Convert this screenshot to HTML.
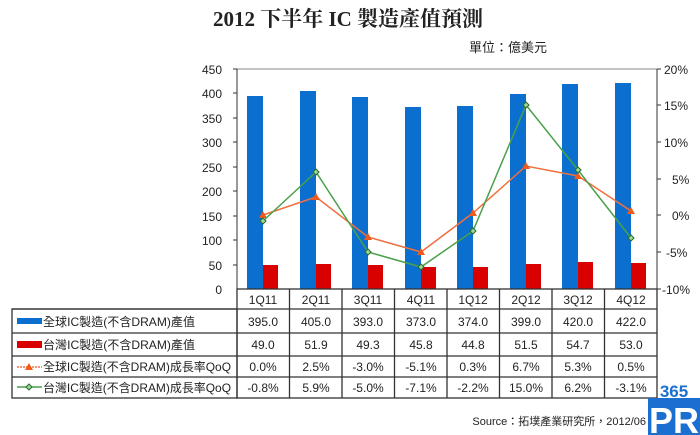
<!DOCTYPE html>
<html><head><meta charset="utf-8"><style>
body{margin:0;background:#fff;width:700px;height:435px;overflow:hidden}
svg{display:block}
text{font-family:"Liberation Sans","Noto Sans CJK TC",sans-serif;fill:#222}
</style></head><body>
<svg width="700" height="435" viewBox="0 0 700 435">
<text x="348" y="26" text-anchor="middle" style="font-family:'Liberation Serif','Noto Serif CJK SC',serif;font-weight:bold;font-size:21px">2012 下半年 IC 製造產值預測</text>
<text x="469" y="52" font-size="13">單位：億美元</text>
<rect x="237" y="69" width="420" height="220" fill="none" stroke="#888" stroke-width="1"/>
<g font-size="12" text-anchor="end">
<text x="222" y="74">450</text><text x="222" y="98">400</text><text x="222" y="123">350</text><text x="222" y="147">300</text><text x="222" y="172">250</text><text x="222" y="196">200</text><text x="222" y="221">150</text><text x="222" y="245">100</text><text x="222" y="270">50</text><text x="222" y="294">0</text>
</g>
<g stroke="#333"><line x1="237" y1="69" x2="237" y2="289"/><line x1="657" y1="69" x2="657" y2="289"/>
<line x1="233" y1="69" x2="237" y2="69"/><line x1="233" y1="93" x2="237" y2="93"/><line x1="233" y1="118" x2="237" y2="118"/><line x1="233" y1="142" x2="237" y2="142"/><line x1="233" y1="167" x2="237" y2="167"/><line x1="233" y1="191" x2="237" y2="191"/><line x1="233" y1="216" x2="237" y2="216"/><line x1="233" y1="240" x2="237" y2="240"/><line x1="233" y1="265" x2="237" y2="265"/>
<line x1="657" y1="69" x2="661" y2="69"/><line x1="657" y1="105" x2="661" y2="105"/><line x1="657" y1="142" x2="661" y2="142"/><line x1="657" y1="179" x2="661" y2="179"/><line x1="657" y1="215" x2="661" y2="215"/><line x1="657" y1="252" x2="661" y2="252"/><line x1="657" y1="289" x2="661" y2="289"/>
</g>
<g font-size="12">
<text x="664" y="74">20%</text><text x="664" y="110">15%</text><text x="664" y="147">10%</text><text x="672" y="184">5%</text><text x="672" y="220">0%</text><text x="666" y="257">-5%</text><text x="662" y="294">-10%</text>
</g>
<g fill="#0a6fce">
<rect x="247" y="96" width="16" height="193"/><rect x="300" y="91" width="16" height="198"/><rect x="352" y="97" width="16" height="192"/><rect x="405" y="107" width="16" height="182"/><rect x="457" y="106" width="16" height="183"/><rect x="510" y="94" width="16" height="195"/><rect x="562" y="84" width="16" height="205"/><rect x="615" y="83" width="16" height="206"/>
</g>
<g fill="#d90000">
<rect x="263" y="265" width="15" height="24"/><rect x="316" y="264" width="15" height="25"/><rect x="368" y="265" width="15" height="24"/><rect x="421" y="267" width="15" height="22"/><rect x="473" y="267" width="15" height="22"/><rect x="526" y="264" width="15" height="25"/><rect x="578" y="262" width="15" height="27"/><rect x="631" y="263" width="15" height="26"/>
</g>
<polyline points="263,215 316,197 368,237 421,252 473,213 526,166 578,176 631,211" fill="none" stroke="#f07040" stroke-width="1.5"/>
<g fill="#f05a1a">
<path d="M263,211 l4,7 h-8z"/><path d="M316,193 l4,7 h-8z"/><path d="M368,233 l4,7 h-8z"/><path d="M421,248 l4,7 h-8z"/><path d="M473,209 l4,7 h-8z"/><path d="M526,162 l4,7 h-8z"/><path d="M578,172 l4,7 h-8z"/><path d="M631,207 l4,7 h-8z"/>
</g>
<polyline points="263,221 316,172 368,252 421,267 473,231 526,105 578,170 631,238" fill="none" stroke="#4aa04a" stroke-width="1.5"/>
<g fill="#9cd89c" stroke="#2a6a2a" stroke-width="1">
<path d="M263,218 l3,3 -3,3 -3,-3z"/><path d="M316,169 l3,3 -3,3 -3,-3z"/><path d="M368,249 l3,3 -3,3 -3,-3z"/><path d="M421,264 l3,3 -3,3 -3,-3z"/><path d="M473,228 l3,3 -3,3 -3,-3z"/><path d="M526,102 l3,3 -3,3 -3,-3z"/><path d="M578,167 l3,3 -3,3 -3,-3z"/><path d="M631,235 l3,3 -3,3 -3,-3z"/>
</g>
<g stroke="#333" stroke-width="1.3" fill="none">
<rect x="237" y="289" width="420" height="109"/>
<rect x="12" y="309" width="225" height="89"/>
<line x1="12" y1="309" x2="657" y2="309"/><line x1="12" y1="333" x2="657" y2="333"/><line x1="12" y1="356" x2="657" y2="356"/><line x1="12" y1="377" x2="657" y2="377"/>
<line x1="289.5" y1="289" x2="289.5" y2="398"/><line x1="342" y1="289" x2="342" y2="398"/><line x1="394.5" y1="289" x2="394.5" y2="398"/><line x1="447" y1="289" x2="447" y2="398"/><line x1="499.5" y1="289" x2="499.5" y2="398"/><line x1="552" y1="289" x2="552" y2="398"/><line x1="604.5" y1="289" x2="604.5" y2="398"/>
</g>
<g font-size="12" text-anchor="middle">
<text x="263" y="304">1Q11</text><text x="316" y="304">2Q11</text><text x="368" y="304">3Q11</text><text x="421" y="304">4Q11</text><text x="473" y="304">1Q12</text><text x="526" y="304">2Q12</text><text x="578" y="304">3Q12</text><text x="631" y="304">4Q12</text>
<text x="263" y="326">395.0</text><text x="316" y="326">405.0</text><text x="368" y="326">393.0</text><text x="421" y="326">373.0</text><text x="473" y="326">374.0</text><text x="526" y="326">399.0</text><text x="578" y="326">420.0</text><text x="631" y="326">422.0</text>
<text x="263" y="349">49.0</text><text x="316" y="349">51.9</text><text x="368" y="349">49.3</text><text x="421" y="349">45.8</text><text x="473" y="349">44.8</text><text x="526" y="349">51.5</text><text x="578" y="349">54.7</text><text x="631" y="349">53.0</text>
<text x="263" y="371">0.0%</text><text x="316" y="371">2.5%</text><text x="368" y="371">-3.0%</text><text x="421" y="371">-5.1%</text><text x="473" y="371">0.3%</text><text x="526" y="371">6.7%</text><text x="578" y="371">5.3%</text><text x="631" y="371">0.5%</text>
<text x="263" y="392">-0.8%</text><text x="316" y="392">5.9%</text><text x="368" y="392">-5.0%</text><text x="421" y="392">-7.1%</text><text x="473" y="392">-2.2%</text><text x="526" y="392">15.0%</text><text x="578" y="392">6.2%</text><text x="631" y="392">-3.1%</text>
</g>
<rect x="17" y="318" width="25" height="6" fill="#0a6fce"/>
<rect x="17" y="341" width="25" height="7" fill="#d90000"/>
<line x1="17" y1="367" x2="42" y2="367" stroke="#f07040" stroke-width="1.5" stroke-dasharray="2,1"/><path d="M29,363 l4,7 h-8z" fill="#f05a1a"/>
<line x1="17" y1="387" x2="42" y2="387" stroke="#4aa04a" stroke-width="1.5"/><path d="M29,384 l3,3 -3,3 -3,-3z" fill="#9cd89c" stroke="#2a6a2a"/>
<g font-size="12">
<text x="43" y="326" textLength="152" lengthAdjust="spacingAndGlyphs">全球IC製造(不含DRAM)產值</text>
<text x="43" y="349" textLength="152" lengthAdjust="spacingAndGlyphs">台灣IC製造(不含DRAM)產值</text>
<text x="43" y="371" textLength="188" lengthAdjust="spacingAndGlyphs">全球IC製造(不含DRAM)成長率QoQ</text>
<text x="43" y="392" textLength="188" lengthAdjust="spacingAndGlyphs">台灣IC製造(不含DRAM)成長率QoQ</text>
</g>
<text x="646" y="425" font-size="11" text-anchor="end">Source：拓墣產業研究所，2012/06</text>
<text x="674" y="397" font-size="17" font-weight="bold" text-anchor="middle" style="fill:#1a6fd0">365</text>
<rect x="648" y="398" width="52" height="37" fill="#1a6fd0"/>
<text x="674" y="433" font-size="36" font-weight="bold" text-anchor="middle" style="fill:#fff">PR</text>
</svg>
</body></html>
